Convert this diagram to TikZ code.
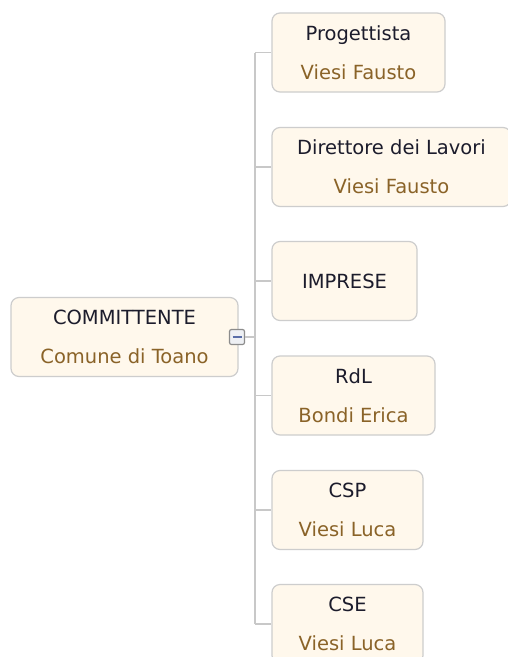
\documentclass[tikz,border=0pt]{standalone}
\usepackage{fontspec}
\setmainfont{DejaVu Sans}
\definecolor{boxfill}{HTML}{FFF8EC}
\definecolor{boxdraw}{HTML}{CDCDCD}
\definecolor{linecol}{HTML}{C8C8C8}
\definecolor{titlecol}{HTML}{1C1C2C}
\definecolor{subcol}{HTML}{8A6328}
\definecolor{btnfill}{HTML}{EEF0F4}
\definecolor{btndraw}{HTML}{8C8C8C}
\definecolor{btnminus}{HTML}{5A6EA8}
\begin{document}
\begin{tikzpicture}[x=1pt,y=-1pt,
  card/.style={draw=boxdraw, line width=1.2pt, fill=boxfill, rounded corners=8pt,
    minimum height=79pt, inner sep=0pt, align=center,
    font=\fontsize{19.5}{39}\selectfont, text=titlecol},
  conn/.style={draw=linecol, line width=1.2pt},
]
\clip (0,0) rectangle (508,657);
\fill[white] (0,0) rectangle (508,657);

\newcommand{\sublabel}[1]{\textcolor{subcol}{#1}}

\node[card, minimum width=227pt] (root) at (124.5,337) {COMMITTENTE\\\sublabel{Comune di Toano}};

\node[card, minimum width=173pt] (p) at (358.5,52.5) {Progettista\\\sublabel{Viesi Fausto}};
\node[card, minimum width=239pt] (d) at (391.5,167) {Direttore dei Lavori\\\sublabel{Viesi Fausto}};
\node[card, minimum width=145pt] (i) at (344.5,281) {IMPRESE};
\node[card, minimum width=163pt] (r) at (353.5,395.5) {RdL\\\sublabel{Bondi Erica}};
\node[card, minimum width=151pt] (csp) at (347.5,510) {CSP\\\sublabel{Viesi Luca}};
\node[card, minimum width=151pt] (cse) at (347.5,624) {CSE\\\sublabel{Viesi Luca}};

\coordinate (top) at (255,52.5);
\coordinate (bot) at (255,624);
\coordinate (mid) at (255,337);

\path[conn] (top) -- (bot);
\foreach \n in {p,d,i,r,csp,cse} {
  \path[conn] (\n.west -| top) -- (\n.west);
}

\node[draw=btndraw, line width=1.2pt, fill=btnfill, rounded corners=2pt,
  minimum size=15pt, inner sep=0pt] (btn) at (237,337) {};
\path[conn] (btn.east) -- (mid);
\draw[btnminus, line width=2pt] ([xshift=-4.5pt]btn.center) -- ([xshift=4.5pt]btn.center);
\end{tikzpicture}
\end{document}
